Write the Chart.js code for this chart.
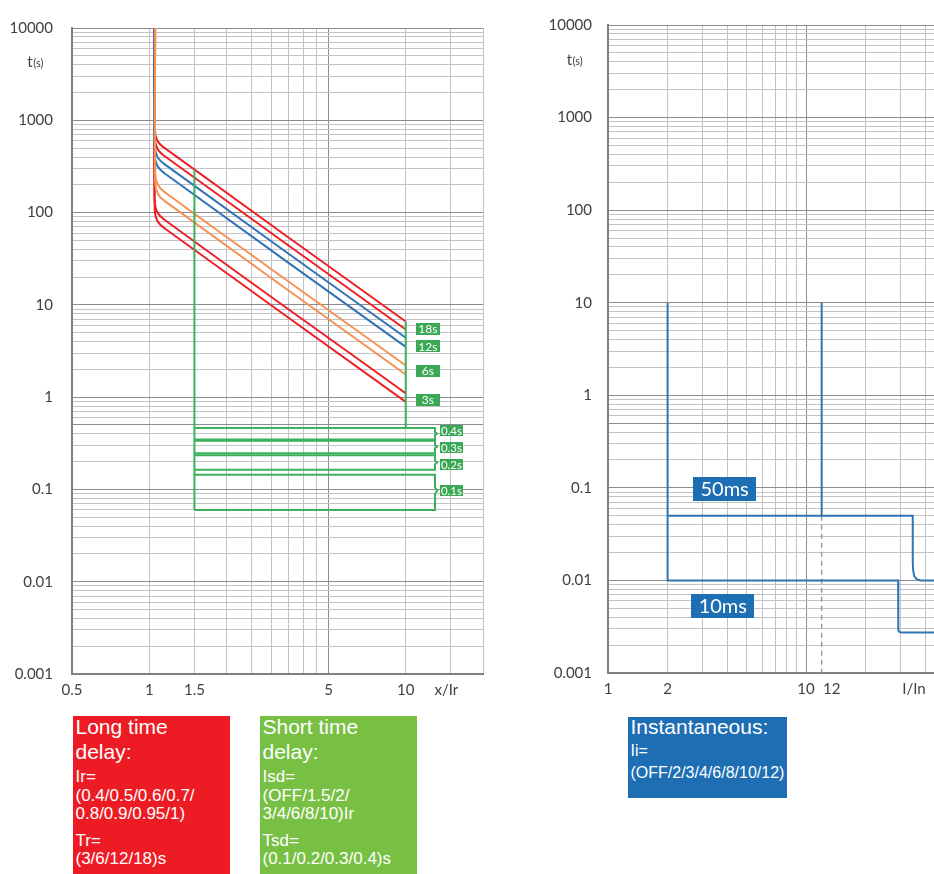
<!DOCTYPE html>
<html>
<head>
<meta charset="utf-8">
<script src="https://cdn.jsdelivr.net/npm/chart.js@4/dist/chart.umd.min.js"></script>
<style>
  html, body { margin: 0; padding: 0; background: #fff; overflow: hidden; width: 934px; height: 874px; }
  #wrap { position: relative; width: 934px; height: 874px; overflow: hidden; }
  canvas { position: absolute; top: 0; }
  #cL { left: 0; }
  #cR { left: 540px; }
  .box { position: absolute; color: #fff; font-family: "Liberation Sans", Arial, sans-serif; box-sizing: border-box; padding-left: 2.5px; overflow: hidden; }
  .ttl { font-size: 21px; line-height: 25px; white-space: nowrap; }
  .sm { font-size: 17px; line-height: 18.5px; white-space: nowrap; }
  .sm16 { font-size: 16px; line-height: 22.3px; white-space: nowrap; }
</style>
</head>
<body>
<div id="wrap">
  <canvas id="cL" width="520" height="710"></canvas>
  <canvas id="cR" width="480" height="710"></canvas>

  <div class="box" style="left:73px;top:716px;width:157px;height:158px;background:#ed1c24;">
    <div class="ttl" style="margin-top:-2.5px;">Long time<br>delay:</div>
    <div class="sm" style="margin-top:4.7px;">Ir=<br>(0.4/0.5/0.6/0.7/<br>0.8/0.9/0.95/1)</div>
    <div class="sm" style="margin-top:7.9px;">Tr=<br>(3/6/12/18)s</div>
  </div>

  <div class="box" style="left:260px;top:716px;width:157px;height:158px;background:#78c044;">
    <div class="ttl" style="margin-top:-2.5px;">Short time<br>delay:</div>
    <div class="sm" style="margin-top:4.7px;">Isd=<br>(OFF/1.5/2/<br>3/4/6/8/10)Ir</div>
    <div class="sm" style="margin-top:7.9px;">Tsd=<br>(0.1/0.2/0.3/0.4)s</div>
  </div>

  <div class="box" style="left:628px;top:717px;width:159px;height:81px;background:#1e6eb4;">
    <div class="ttl" style="margin-top:-3.5px;">Instantaneous:</div>
    <div class="sm16" style="margin-top:1.5px;">Ii=<br>(OFF/2/3/4/6/8/10/12)</div>
  </div>
</div>

<script>
// ---- Long-time delay curves: [x/Ir, t(s)], upper and lower edge of each Tr band ----
const ltd18Upper = [[1.05, 10000], [1.05, 808], [1.075, 605], [1.15, 499], [10, 6.6]];
const ltd18Lower = [[1.05, 10000], [1.05, 661], [1.075, 495], [1.15, 408], [10, 5.4]];
const ltd12Upper = [[1.05, 10000], [1.05, 539], [1.075, 404], [1.15, 333], [10, 4.4]];
const ltd12Lower = [[1.05, 10000], [1.05, 429], [1.075, 321], [1.15, 265], [10, 3.5]];
const ltd6Upper  = [[1.055, 10000], [1.055, 269], [1.08, 200], [1.15, 166], [10, 2.2]];
const ltd6Lower  = [[1.055, 10000], [1.055, 215], [1.08, 160], [1.15, 133], [10, 1.76]];
const ltd3Upper  = [[1.05, 10000], [1.05, 135], [1.075, 101], [1.15, 83], [10, 1.1]];
const ltd3Lower  = [[1.05, 10000], [1.05, 109], [1.075, 81.6], [1.15, 67.3], [10, 0.89]];

// ---- Short-time delay: pickup line, end of long-time region, Tsd bands ----
const stdPickup  = [[1.5, 293], [1.5, 0.06]];
const ltdEnd     = [[10, 6.6], [10, 0.464]];
const std04 = [[1.5, 0.464], [13, 0.464], [13, 0.415], [13.25, 0.402], [13, 0.39], [13, 0.348], [1.5, 0.348]];
const std03 = [[1.5, 0.336], [13, 0.336], [13, 0.3], [13.25, 0.29], [13, 0.28], [13, 0.247], [1.5, 0.247]];
const std02 = [[1.5, 0.235], [13, 0.235], [13, 0.205], [13.25, 0.196], [13, 0.187], [13, 0.163], [1.5, 0.163]];
const std01 = [[1.5, 0.144], [13, 0.144], [13, 0.106], [13.25, 0.097], [13, 0.089], [13, 0.06], [1.5, 0.06]];

// ---- Instantaneous: [I/In, t(s)] ----
const inst10ms  = [[2, 10], [2, 0.01], [29.2, 0.01], [29.2, 0.0032], [29.3, 0.0029], [29.6, 0.00278], [30.3, 0.00274], [100, 0.00274]];
const inst50ms  = [[12, 10], [12, 0.05], [34.6, 0.05], [34.6, 0.016], [34.75, 0.013], [35.2, 0.0112], [36.2, 0.0103], [38, 0.01], [100, 0.01]];
const inst50msFrom2 = [[2, 0.05], [12, 0.05]];
const inst12Guide   = [[12, 0.05], [12, 0.001]];

// ---- Setting tags ----
const ltdTagText = ['18s', '12s', '6s', '3s'];
const ltdTagT    = [5.53, 3.54, 1.94, 0.93];
const stdTagText = ['0.4s', '0.3s', '0.2s', '0.1s'];
const stdTagT    = [0.437, 0.284, 0.184, 0.097];
const instTagText = ['50ms', '10ms'];
const instTagX    = [3.88, 3.8];
const instTagT    = [0.098, 0.0053];

// ---- Axes ----
const yDecades = [0.001, 0.01, 0.1, 1, 10, 100, 1000, 10000];
const yDecadeLabels = ['0.001', '0.01', '0.1', '1', '10', '100', '1000', '10000'];
const yMinorSteps = [2, 3, 4, 5, 6, 7, 8, 9];
const xTicksLeft  = [0.5, 1, 1.5, 2, 2.5, 3, 3.5, 4, 4.5, 5, 10, 15, 20];
const xLabelsLeft = ['0.5', '1', '1.5', '', '', '', '', '', '', '5', '10', '', ''];
const xTicksRight  = [1, 2, 3, 4, 5, 6, 7, 8, 9, 10, 20, 30, 40, 50, 60, 70, 80, 90, 100];
const xLabelsRight = ['1', '2', '', '', '', '', '', '', '', '10', '', '', '', '', '', '', '', '', ''];
// labels that sit between grid lines (the "12" text stands just right of its setting line)
const xExtraLeft  = [{ value: 14.4, label: 'x/Ir' }];
const xExtraRight = [{ value: 13.5, label: '12' }, { value: 35.1, label: 'I/In' }];

const RED = '#ee1f26', BLUE = '#2f74b5', ORANGE = '#f39254', GREEN = '#3cb15b';
const TAG_GREEN = '#3ba856', TAG_BLUE = '#1e6eb4';
const GRID_MINOR = '#c2c2c7', GRID_MAJOR = '#8c8c8c', AXIS = '#808080', LABEL = '#404040';
const TICK_FONT = { family: 'Lato', size: 15 };

const near = (a, b) => Math.abs(a - b) <= Math.abs(b) * 1e-6;

const yGridValues = [];
yDecades.forEach(d => {
  yGridValues.push(d);
  if (d < 10000) yMinorSteps.forEach(m => yGridValues.push(parseFloat((m * d).toPrecision(4))));
});

function yScale(width, pad) {
  return {
    type: 'logarithmic', min: 0.001, max: 10000,
    afterBuildTicks(s) { s.ticks = yGridValues.map(v => ({ value: v })); },
    afterFit(s) { s.width = width; },
    ticks: {
      autoSkip: false, padding: pad, color: LABEL, font: TICK_FONT,
      callback(v) {
        const i = yDecades.findIndex(d => near(v, d));
        return i >= 0 ? yDecadeLabels[i] : '';
      }
    },
    grid: {
      drawTicks: false, lineWidth: 1,
      color(c) {
        const v = c.tick ? c.tick.value : 0;
        if (yDecades.some(d => near(v, d)) || near(v, 0.5)) return GRID_MAJOR;
        return GRID_MINOR;
      }
    },
    border: { color: AXIS, width: 2 }
  };
}

function xScale(min, max, values, labels, extra, majorAt) {
  const all = values.map((v, i) => ({ value: v, label: labels[i], grid: true }))
    .concat(extra.map(e => ({ value: e.value, label: e.label, grid: false })))
    .sort((a, b) => a.value - b.value);
  return {
    type: 'logarithmic', min, max,
    afterBuildTicks(s) { s.ticks = all.map(t => ({ value: t.value })); },
    afterFit(s) { s.height = 31; },
    ticks: {
      autoSkip: false, maxRotation: 0, minRotation: 0, padding: 7, color: LABEL, font: TICK_FONT,
      callback(v) { const t = all.find(a => near(a.value, v)); return t ? t.label : ''; }
    },
    grid: {
      drawTicks: false, lineWidth: 1,
      color(c) {
        const v = c.tick ? c.tick.value : 0;
        const t = all.find(a => near(a.value, v));
        if (t && !t.grid) return 'rgba(0,0,0,0)';
        return near(v, majorAt) ? GRID_MAJOR : GRID_MINOR;
      }
    },
    border: { color: AXIS, width: 2 }
  };
}

const pts = arr => arr.map(([x, t]) => ({ x, y: t }));
function line(arr, color, extra) {
  return Object.assign({ data: pts(arr), borderColor: color, backgroundColor: color, borderWidth: 2,
    showLine: true, pointRadius: 0, pointHoverRadius: 0, tension: 0, fill: false }, extra || {});
}

function overlay(tags, titleDx, titleDy) {
  return {
    id: 'overlay',
    afterDatasetsDraw(chart) {
      const { ctx, scales, chartArea } = chart;
      ctx.save();
      tags.forEach(tg => {
        const cx = scales.x.getPixelForValue(tg.x);
        const cy = scales.y.getPixelForValue(tg.t);
        ctx.fillStyle = tg.bg;
        ctx.fillRect(Math.round(cx - tg.w / 2), Math.round(cy - tg.h / 2), tg.w, tg.h);
        ctx.fillStyle = '#fff';
        ctx.font = tg.font;
        ctx.textAlign = 'center';
        ctx.textBaseline = 'middle';
        ctx.fillText(tg.text, cx, cy + 0.5);
      });
      // y-axis title t(s)
      ctx.fillStyle = LABEL;
      ctx.textAlign = 'left';
      ctx.textBaseline = 'alphabetic';
      const tx = chartArea.left - titleDx, ty = chartArea.top + titleDy;
      ctx.font = '15px Lato';
      ctx.fillText('t', tx, ty);
      const tw = ctx.measureText('t').width;
      ctx.font = '11px Lato';
      ctx.fillText('(s)', tx + tw + 0.5, ty);
      ctx.restore();
    }
  };
}

const commonOpts = {
  responsive: false, animation: false, events: [],
  plugins: { legend: { display: false }, tooltip: { enabled: false } }
};

// ---- Left chart: long-time and short-time protection ----
const leftTags = ltdTagText.map((text, i) => ({ text, x: 12.2, t: ltdTagT[i], w: 24, h: 12, bg: TAG_GREEN, font: '12px Lato' }))
  .concat(stdTagText.map((text, i) => ({ text, x: 15.06, t: stdTagT[i], w: 23, h: 11, bg: TAG_GREEN, font: '11.5px Lato' })));

new Chart(document.getElementById('cL'), {
  type: 'scatter',
  data: {
    datasets: [
      line(stdPickup, GREEN), line(ltdEnd, GREEN),
      line(std04, GREEN), line(std03, GREEN), line(std02, GREEN), line(std01, GREEN),
      line(ltd6Upper, ORANGE, { tension: 0.4 }), line(ltd6Lower, ORANGE, { tension: 0.4 }),
      line(ltd12Upper, BLUE, { tension: 0.4 }), line(ltd12Lower, BLUE, { tension: 0.4 }),
      line(ltd18Upper, RED, { tension: 0.4 }), line(ltd18Lower, RED, { tension: 0.4 }),
      line(ltd3Upper, RED, { tension: 0.4 }), line(ltd3Lower, RED, { tension: 0.4 })
    ]
  },
  options: Object.assign({}, commonOpts, {
    layout: { padding: { left: 0, top: 18, right: 37, bottom: 5 } },
    scales: {
      x: xScale(0.5, 20, xTicksLeft, xLabelsLeft, xExtraLeft, 5),
      y: yScale(72, 19)
    }
  }),
  plugins: [overlay(leftTags, 44.7, 38.7)]
});

// ---- Right chart: instantaneous protection ----
const rightTags = instTagText.map((text, i) => ({ text, x: instTagX[i], t: instTagT[i], w: 63, h: 24, bg: TAG_BLUE, font: '20px Lato' }));

new Chart(document.getElementById('cR'), {
  type: 'scatter',
  data: {
    datasets: [
      line(inst50ms, BLUE), line(inst50msFrom2, BLUE), line(inst10ms, BLUE),
      line(inst12Guide, '#9a9a9a', { borderWidth: 1.5, borderDash: [5, 4] })
    ]
  },
  options: Object.assign({}, commonOpts, {
    layout: { padding: { left: 0, top: 20, right: 16, bottom: 6 } },
    scales: {
      x: xScale(1, 100, xTicksRight, xLabelsRight, xExtraRight, 10),
      y: yScale(68, 16)
    }
  }),
  plugins: [overlay(rightTags, 41.3, 40)]
});
</script>
</body>
</html>
